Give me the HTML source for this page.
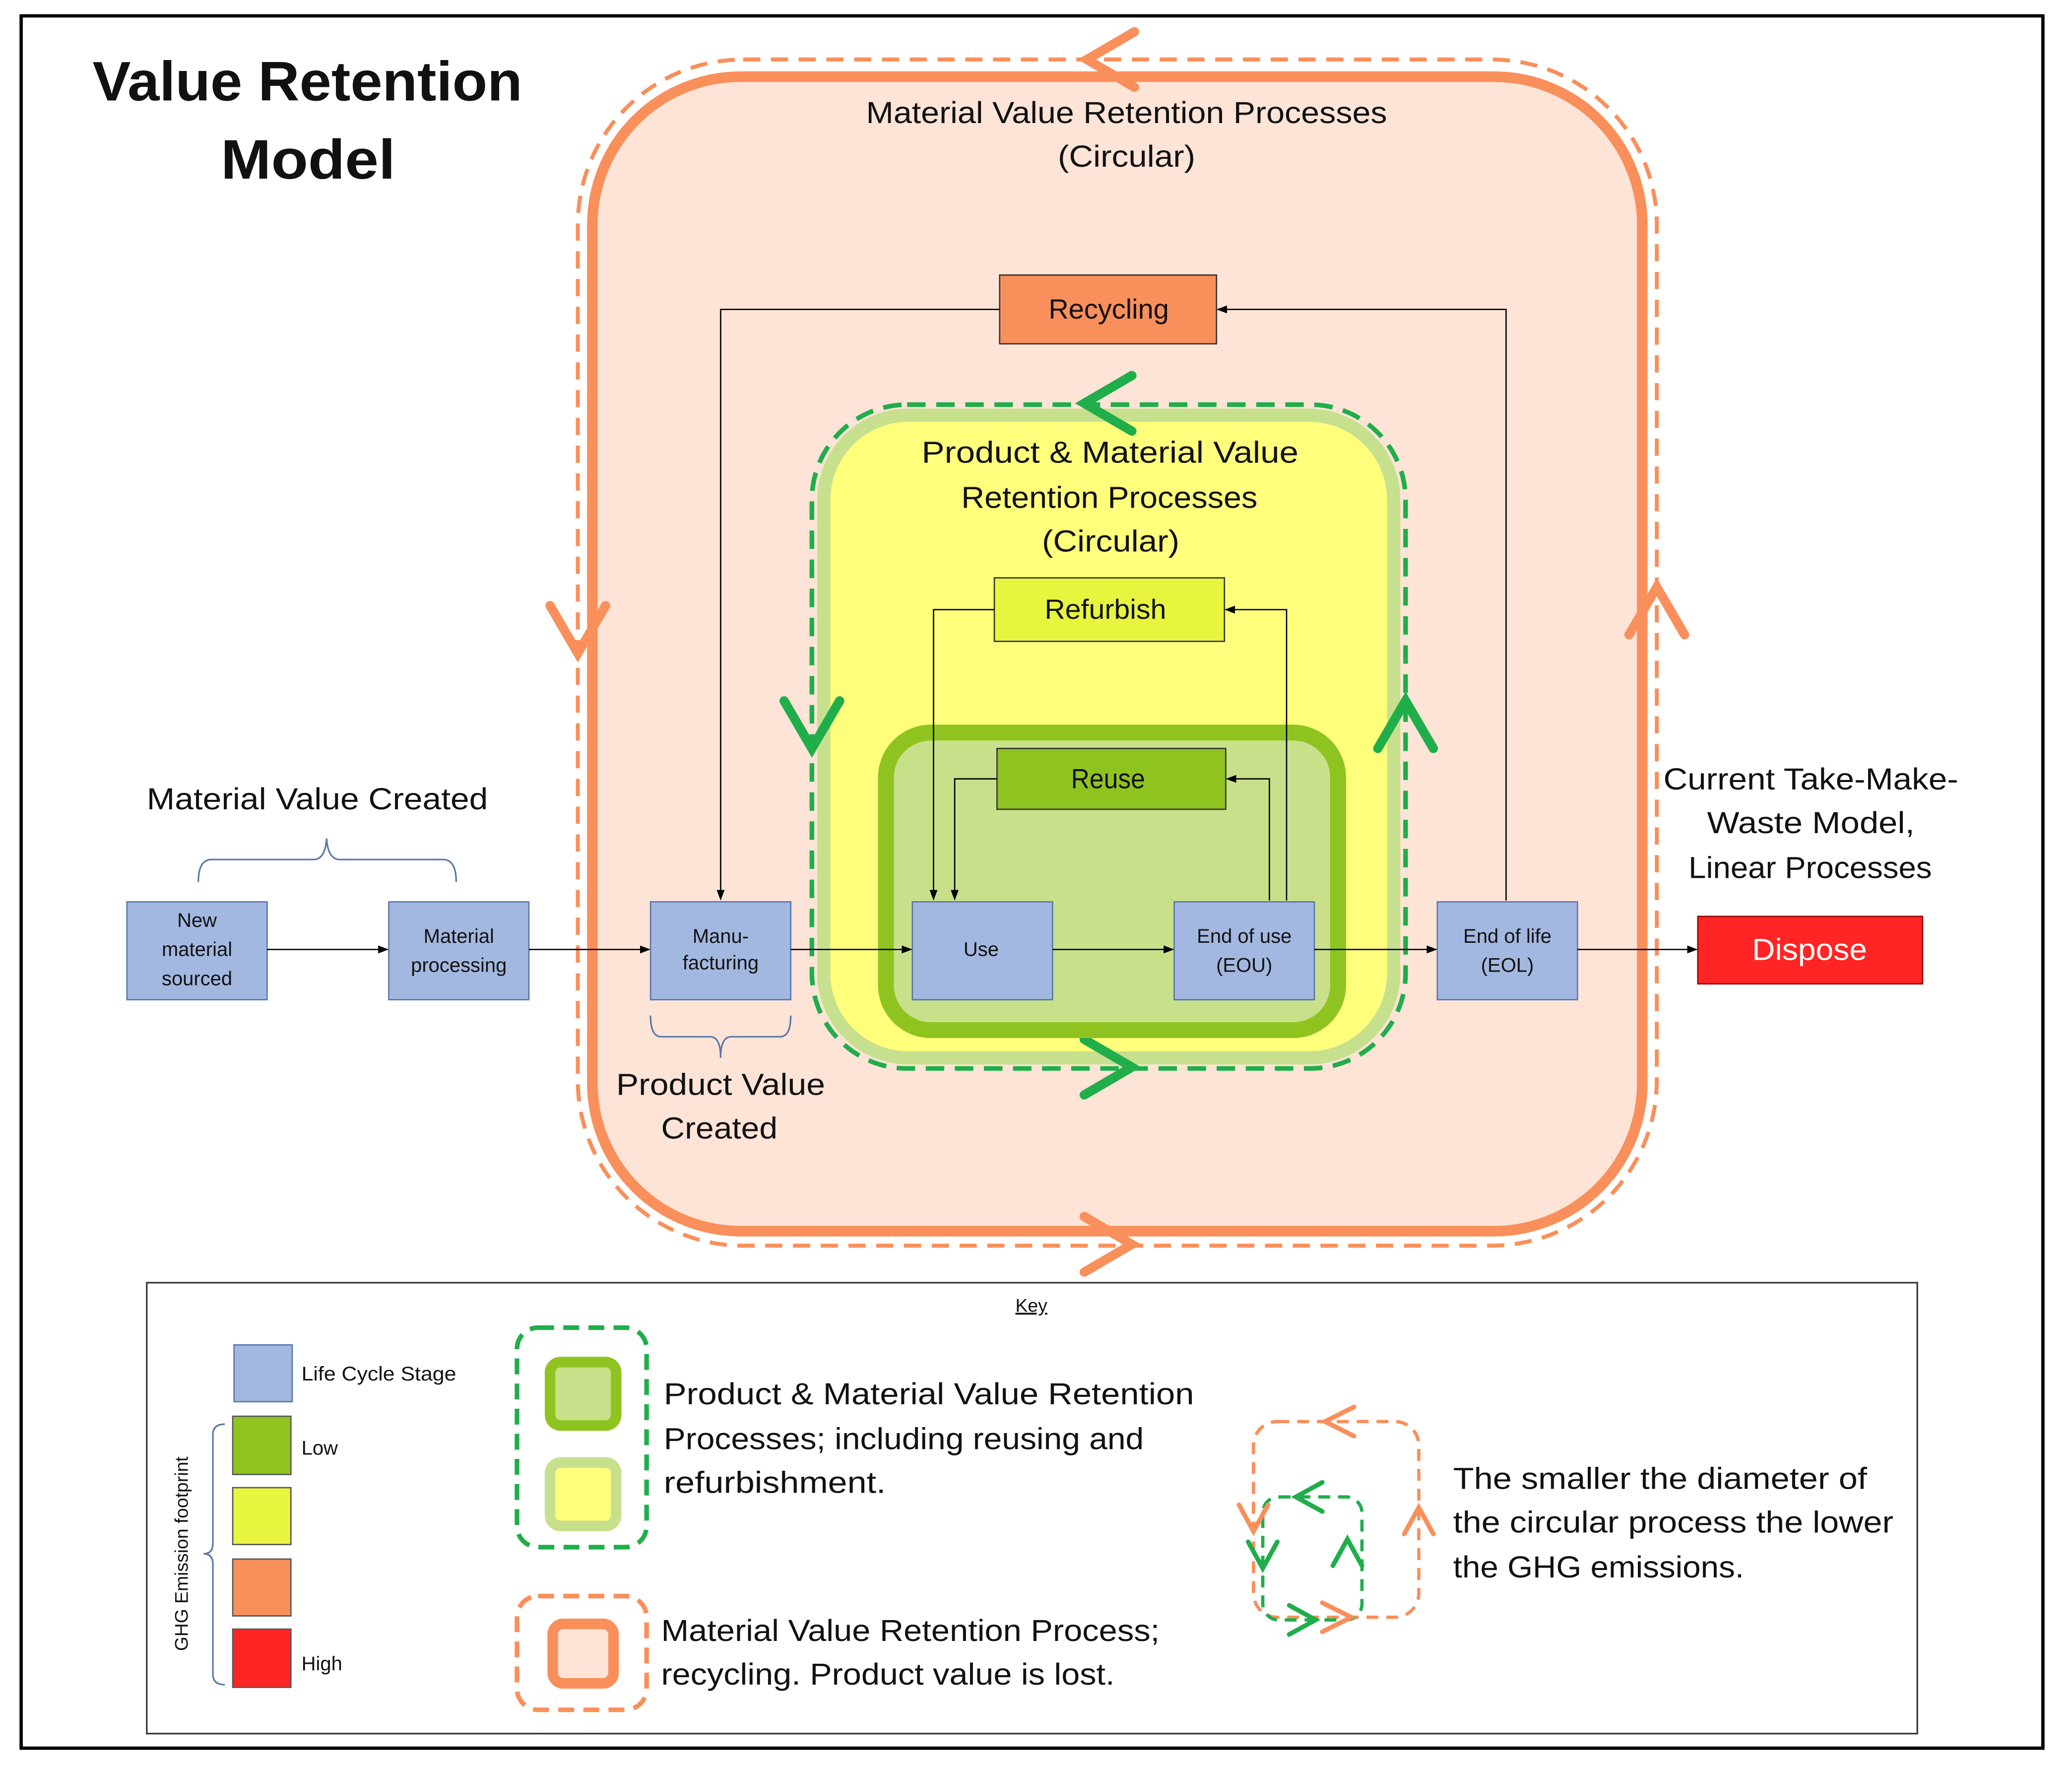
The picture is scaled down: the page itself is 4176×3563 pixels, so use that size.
<!DOCTYPE html>
<html><head><meta charset="utf-8"><style>
html,body{margin:0;padding:0;background:#fff}
svg{display:block}
text{font-family:"Liberation Sans",sans-serif;fill:#111}
</style></head><body>
<svg width="4176" height="3563" viewBox="0 0 1567 1337" preserveAspectRatio="none" xmlns="http://www.w3.org/2000/svg">
<defs>
<marker id="a" markerWidth="8" markerHeight="8" refX="7" refY="4" orient="auto" markerUnits="userSpaceOnUse"><path d="M0,1 L8,4 L0,7 z" fill="#000"/></marker>
</defs>
<rect x="0" y="0" width="1567" height="1337" fill="#fff"/>
<rect x="16" y="12" width="1529" height="1310" fill="none" stroke="#000" stroke-width="2.5"/>
<text x="70" y="76" font-size="42" font-weight="bold" textLength="325" lengthAdjust="spacingAndGlyphs">Value Retention</text>
<text x="167" y="135" font-size="42" font-weight="bold" textLength="132" lengthAdjust="spacingAndGlyphs">Model</text>

<!-- orange region -->
<rect x="437" y="45" width="816" height="897" rx="125" fill="none" stroke="#f98f5a" stroke-width="3" stroke-dasharray="13,8"/>
<rect x="448" y="58" width="794" height="873" rx="112" fill="#fde4d7" stroke="#f98f5a" stroke-width="8"/>
<g fill="none" stroke="#f98f5a" stroke-width="7" stroke-linecap="round">
<path d="M858,24 L822,45 L858,66"/>
<path d="M820,920 L856,941 L820,962"/>
<path d="M416,458 L437,494 L458,458"/>
<path d="M1232,480 L1253,444 L1274,480"/>
</g>
<text x="655" y="93" font-size="23" textLength="394" lengthAdjust="spacingAndGlyphs">Material Value Retention Processes</text>
<text x="800" y="126" font-size="23" textLength="104" lengthAdjust="spacingAndGlyphs">(Circular)</text>

<!-- recycling -->
<rect x="756" y="208" width="164" height="52" fill="#f98f5a" stroke="#333" stroke-width="1"/>
<text x="793" y="241" font-size="21" textLength="91" lengthAdjust="spacingAndGlyphs">Recycling</text>
<path d="M756,234 H545 V680" fill="none" stroke="#000" stroke-width="1" marker-end="url(#a)"/>
<path d="M1139,681 V234 H921" fill="none" stroke="#000" stroke-width="1" marker-end="url(#a)"/>

<!-- yellow region -->
<rect x="614" y="306" width="449" height="502" rx="72" fill="none" stroke="#1fae4a" stroke-width="3.5" stroke-dasharray="14,8"/>
<rect x="623" y="314" width="431" height="486" rx="64" fill="#ffff7c" stroke="#c7e08d" stroke-width="10"/>
<g fill="none" stroke="#1fae4a" stroke-width="7" stroke-linecap="round">
<path d="M856,284 L820,305 L856,326"/>
<path d="M820,786 L856,807 L820,828"/>
<path d="M593,530 L614,566 L635,530"/>
<path d="M1042,566 L1063,530 L1084,566"/>
</g>
<text x="697" y="350" font-size="23" textLength="285" lengthAdjust="spacingAndGlyphs">Product &amp; Material Value</text>
<text x="727" y="384" font-size="23" textLength="224" lengthAdjust="spacingAndGlyphs">Retention Processes</text>
<text x="788" y="417" font-size="23" textLength="104" lengthAdjust="spacingAndGlyphs">(Circular)</text>

<rect x="752" y="437" width="174" height="48" fill="#e8f53f" stroke="#333" stroke-width="1"/>
<text x="790" y="468" font-size="21" textLength="92" lengthAdjust="spacingAndGlyphs">Refurbish</text>

<!-- inner green -->
<rect x="670" y="554" width="342" height="225" rx="34" fill="#c9e08b" stroke="#8fc420" stroke-width="12"/>
<rect x="754" y="566" width="173" height="46" fill="#8fc420" stroke="#333" stroke-width="1"/>
<text x="810" y="596" font-size="21" textLength="56" lengthAdjust="spacingAndGlyphs">Reuse</text>

<path d="M752,461 H706 V680" fill="none" stroke="#000" stroke-width="1" marker-end="url(#a)"/>
<path d="M973,681 V461 H927" fill="none" stroke="#000" stroke-width="1" marker-end="url(#a)"/>
<path d="M754,589 H722 V680" fill="none" stroke="#000" stroke-width="1" marker-end="url(#a)"/>
<path d="M960,681 V589 H928" fill="none" stroke="#000" stroke-width="1" marker-end="url(#a)"/>

<!-- lifecycle boxes -->
<g fill="#a3b8e0" stroke="#5877a8" stroke-width="1">
<rect x="96" y="682" width="106" height="74"/>
<rect x="294" y="682" width="106" height="74"/>
<rect x="492" y="682" width="106" height="74"/>
<rect x="690" y="682" width="106" height="74"/>
<rect x="888" y="682" width="106" height="74"/>
<rect x="1087" y="682" width="106" height="74"/>
</g>
<g font-size="15" text-anchor="middle">
<text x="149" y="701">New</text><text x="149" y="723">material</text><text x="149" y="745">sourced</text>
<text x="347" y="713">Material</text><text x="347" y="735">processing</text>
<text x="545" y="713">Manu-</text><text x="545" y="733">facturing</text>
<text x="742" y="723">Use</text>
<text x="941" y="713">End of use</text><text x="941" y="735">(EOU)</text>
<text x="1140" y="713">End of life</text><text x="1140" y="735">(EOL)</text>
</g>
<rect x="1284" y="693" width="170" height="51" fill="#ff2525" stroke="#900" stroke-width="1"/>
<text x="1325" y="726" font-size="23" textLength="87" lengthAdjust="spacingAndGlyphs" style="fill:#fff">Dispose</text>
<g stroke="#000" stroke-width="1">
<path d="M202,718 H293" marker-end="url(#a)"/>
<path d="M400,718 H491" marker-end="url(#a)"/>
<path d="M598,718 H689" marker-end="url(#a)"/>
<path d="M796,718 H887" marker-end="url(#a)"/>
<path d="M994,718 H1086" marker-end="url(#a)"/>
<path d="M1193,718 H1283" marker-end="url(#a)"/>
</g>

<text x="111" y="612" font-size="23" textLength="258" lengthAdjust="spacingAndGlyphs">Material Value Created</text>
<path d="M150,667 Q150,650 160,650 H237 Q246,650 247,634 Q248,650 257,650 H335 Q345,650 345,667" fill="none" stroke="#5877a8" stroke-width="1.2"/>
<path d="M492,768 Q492,784 500,784 H537 Q545,784 545,800 Q545,784 553,784 H590 Q598,784 598,768" fill="none" stroke="#5877a8" stroke-width="1.2"/>
<text x="466" y="828" font-size="23" textLength="158" lengthAdjust="spacingAndGlyphs">Product Value</text>
<text x="500" y="861" font-size="23" textLength="88" lengthAdjust="spacingAndGlyphs">Created</text>

<text x="1258" y="597" font-size="23" textLength="223" lengthAdjust="spacingAndGlyphs">Current Take-Make-</text>
<text x="1291" y="630" font-size="23" textLength="157" lengthAdjust="spacingAndGlyphs">Waste Model,</text>
<text x="1277" y="664" font-size="23" textLength="184" lengthAdjust="spacingAndGlyphs">Linear Processes</text>

<!-- key -->
<rect x="111" y="970" width="1339" height="341" fill="#fff" stroke="#333" stroke-width="1.2"/>
<text x="780" y="992" font-size="14" text-anchor="middle" text-decoration="underline">Key</text>
<rect x="177" y="1017" width="44" height="43" fill="#a3b8e0" stroke="#5877a8"/>
<text x="228" y="1044" font-size="15" textLength="117" lengthAdjust="spacingAndGlyphs">Life Cycle Stage</text>
<rect x="176" y="1071" width="44" height="44" fill="#8fc420" stroke="#555"/>
<text x="228" y="1100" font-size="15">Low</text>
<rect x="176" y="1125" width="44" height="43" fill="#e8f53f" stroke="#555"/>
<rect x="176" y="1179" width="44" height="43" fill="#f98f5a" stroke="#555"/>
<rect x="176" y="1232" width="44" height="44" fill="#ff2525" stroke="#555"/>
<text x="228" y="1263" font-size="15">High</text>
<path d="M170,1077 Q161,1077 161,1085 V1167 Q161,1175 154,1175 Q161,1175 161,1183 V1266 Q161,1274 170,1274" fill="none" stroke="#5877a8" stroke-width="1.2"/>
<text transform="translate(142,1175) rotate(-90)" font-size="14" text-anchor="middle">GHG Emission footprint</text>

<rect x="391" y="1004" width="98" height="166" rx="16" fill="none" stroke="#1fae4a" stroke-width="3.5" stroke-dasharray="12,7"/>
<rect x="416" y="1030" width="50" height="48" rx="8" fill="#c9e08b" stroke="#8fc420" stroke-width="8"/>
<rect x="416" y="1106" width="50" height="48" rx="8" fill="#ffff7c" stroke="#c7e08d" stroke-width="8"/>
<text x="502" y="1062" font-size="23" textLength="401" lengthAdjust="spacingAndGlyphs">Product &amp; Material Value Retention</text>
<text x="502" y="1096" font-size="23" textLength="363" lengthAdjust="spacingAndGlyphs">Processes; including reusing and</text>
<text x="502" y="1129" font-size="23" textLength="168" lengthAdjust="spacingAndGlyphs">refurbishment.</text>

<rect x="391" y="1207" width="98" height="86" rx="16" fill="none" stroke="#f98f5a" stroke-width="3.5" stroke-dasharray="12,7"/>
<rect x="418" y="1228" width="46" height="45" rx="8" fill="#fde4d7" stroke="#f98f5a" stroke-width="8"/>
<text x="500" y="1241" font-size="23" textLength="377" lengthAdjust="spacingAndGlyphs">Material Value Retention Process;</text>
<text x="500" y="1274" font-size="23" textLength="343" lengthAdjust="spacingAndGlyphs">recycling. Product value is lost.</text>

<!-- mini icon -->
<rect x="948" y="1075" width="125" height="148" rx="18" fill="none" stroke="#f98f5a" stroke-width="2.5" stroke-dasharray="9,6"/>
<rect x="955" y="1132" width="75" height="93" rx="12" fill="none" stroke="#1fae4a" stroke-width="2.5" stroke-dasharray="9,6"/>
<g fill="none" stroke="#f98f5a" stroke-width="3.5" stroke-linecap="round">
<path d="M1024,1064 L1002,1075 L1024,1086"/>
<path d="M1000,1212 L1022,1223 L1000,1234"/>
<path d="M937,1138 L948,1158 L959,1138"/>
<path d="M1062,1160 L1073,1140 L1084,1160"/>
</g>
<g fill="none" stroke="#1fae4a" stroke-width="3.5" stroke-linecap="round">
<path d="M1000,1121 L980,1132 L1000,1143"/>
<path d="M975,1214 L995,1225 L975,1236"/>
<path d="M944,1166 L955,1186 L966,1166"/>
<path d="M1008,1184 L1019,1164 L1030,1184"/>
</g>
<text x="1099" y="1126" font-size="23" textLength="313" lengthAdjust="spacingAndGlyphs">The smaller the diameter of</text>
<text x="1099" y="1159" font-size="23" textLength="333" lengthAdjust="spacingAndGlyphs">the circular process the lower</text>
<text x="1099" y="1193" font-size="23" textLength="220" lengthAdjust="spacingAndGlyphs">the GHG emissions.</text>
</svg>
</body></html>
